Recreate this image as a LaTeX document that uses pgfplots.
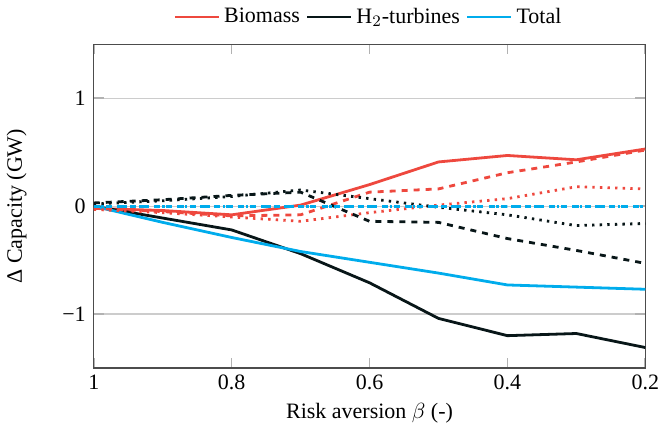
\documentclass[border=0pt]{standalone}
\usepackage{pgfplots}
\pgfplotsset{compat=1.18}
\usepackage{fontspec}
\setmainfont{Liberation Serif}
\definecolor{cred}{RGB}{238,72,62}
\definecolor{cblk}{RGB}{8,22,24}
\definecolor{ccyan}{RGB}{0,172,236}
\begin{document}
\begin{tikzpicture}
\begin{axis}[
  scale only axis,
  width=276pt, height=162pt,
  x dir=reverse,
  xmin=0.2, xmax=1, ymin=-1.5, ymax=1.5,
  xtick={1,0.8,0.6,0.4,0.2},
  xticklabels={1,0.8,0.6,0.4,0.2},
  ytick={-1,0,1},
  yticklabels={−1,0,1},
  ymajorgrids,
  grid style={black!20, line width=0.6pt},
  major tick style={black!30, line width=0.8pt},
  major tick length=5pt,
  axis line style={black!70, line width=0.6pt},
  tick label style={font=\fontsize{11}{13}\selectfont},
  xticklabel style={inner xsep=0pt},
  label style={font=\fontsize{11}{13}\selectfont},
  yticklabel shift=0.5pt,
  ylabel shift=11pt,
  xlabel={Risk aversion $\beta$ (-)},
  ylabel={Δ Capacity (GW)},
  legend style={at={(0.5,1.03)}, anchor=south, draw=none, fill=none,
    font=\fontsize{11}{13}\selectfont, /tikz/every even column/.append style={column sep=1pt}},
  legend columns=-1,
  legend image code/.code={\draw[#1, line width=1.3pt] (0pt,0pt) -- (22pt,0pt);},
  every axis plot/.append style={line width=1.4pt},
]
% Biomass solid
\addplot[cred] coordinates {(1,-0.02) (0.9,-0.04) (0.8,-0.08) (0.7,0.01) (0.6,0.2) (0.5,0.41) (0.4,0.47) (0.3,0.43) (0.2,0.53)};
\addlegendentry{Biomass}
% H2 solid
\addplot[cblk] coordinates {(1,0.0) (0.9,-0.11) (0.8,-0.22) (0.7,-0.44) (0.6,-0.71) (0.5,-1.04) (0.4,-1.2) (0.3,-1.18) (0.2,-1.31)};
\addlegendentry{H$_2$-turbines}
% Total solid
\addplot[ccyan] coordinates {(1,0.0) (0.9,-0.15) (0.8,-0.29) (0.7,-0.42) (0.6,-0.52) (0.5,-0.62) (0.4,-0.73) (0.3,-0.75) (0.2,-0.77)};
\addlegendentry{Total}
% Biomass dashed
\addplot[cred, dashed, forget plot] coordinates {(1,-0.02) (0.9,-0.05) (0.8,-0.09) (0.7,-0.08) (0.6,0.13) (0.5,0.16) (0.4,0.31) (0.3,0.41) (0.2,0.52)};
% Biomass dotted
\addplot[cred, dash pattern=on 1.2pt off 2.6pt, forget plot] coordinates {(1,-0.03) (0.9,-0.06) (0.8,-0.1) (0.7,-0.14) (0.6,-0.06) (0.5,0.01) (0.4,0.07) (0.3,0.18) (0.2,0.16)};
% H2 dashed
\addplot[cblk, dashed, forget plot] coordinates {(1,0.03) (0.9,0.06) (0.8,0.1) (0.7,0.13) (0.6,-0.14) (0.5,-0.15) (0.4,-0.3) (0.3,-0.41) (0.2,-0.53)};
% H2 dotted
\addplot[cblk, dash pattern=on 1.2pt off 2.6pt, forget plot] coordinates {(1,0.02) (0.9,0.05) (0.8,0.09) (0.7,0.15) (0.6,0.07) (0.5,-0.01) (0.4,-0.08) (0.3,-0.18) (0.2,-0.16)};
% Total dashed
\addplot[ccyan, dashed, forget plot] coordinates {(1,0) (0.9,0) (0.8,0) (0.7,0) (0.6,0) (0.5,0) (0.4,0) (0.3,0) (0.2,0)};
% Total dotted
\addplot[ccyan, dash pattern=on 1.2pt off 2.6pt, forget plot] coordinates {(1,0) (0.9,0) (0.8,0) (0.7,0) (0.6,0) (0.5,0) (0.4,0) (0.3,0) (0.2,0)};
\end{axis}
\end{tikzpicture}
\end{document}
